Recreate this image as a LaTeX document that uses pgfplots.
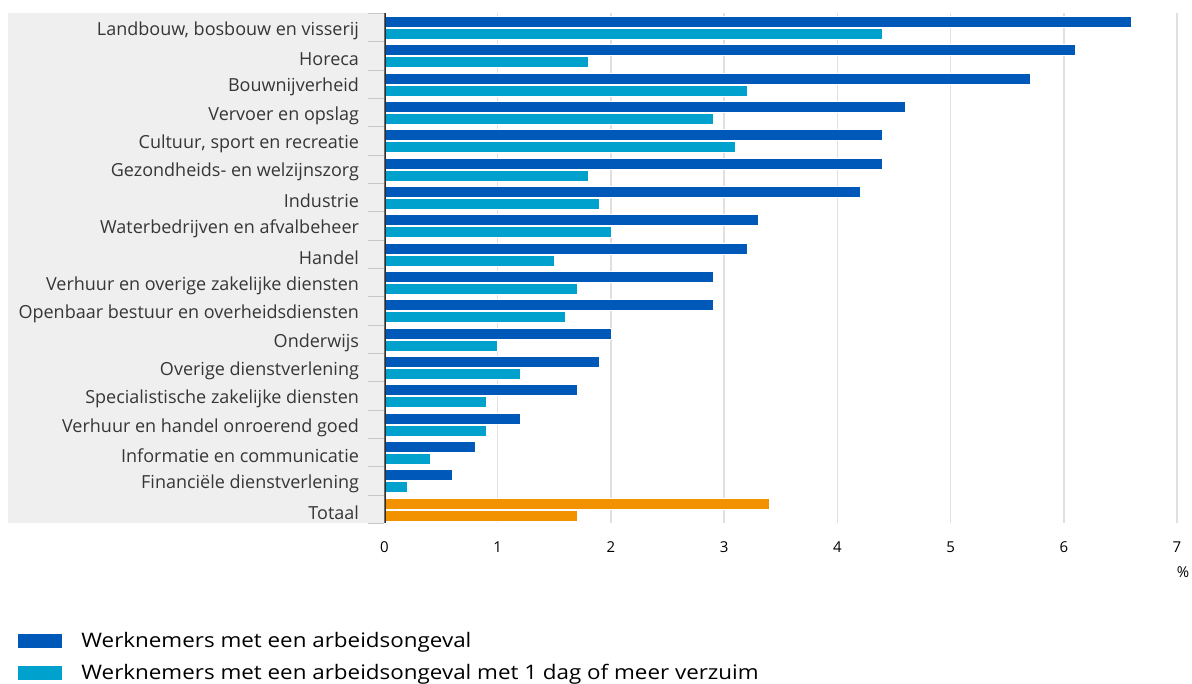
\documentclass[border=0pt]{standalone}
\usepackage{pgfplots}
\pgfplotsset{compat=1.18}
\usepackage{fontspec}
\setmainfont{Open Sans}
\newfontfamily\legfont[FakeStretch=1.12]{Open Sans}
\definecolor{dblue}{HTML}{0058B8}
\definecolor{lblue}{HTML}{00A1CD}
\definecolor{orng}{HTML}{F39200}
\definecolor{panel}{HTML}{EFEFEF}
\definecolor{lab}{HTML}{363636}
\definecolor{axl}{HTML}{2E2E2E}
\definecolor{gridc}{HTML}{E0E0E0}
\definecolor{tickc}{HTML}{C8C8C8}
\begin{document}
\begin{tikzpicture}
\useasboundingbox (0,0) rectangle (1192pt,684pt);
\fill[panel] (8pt,160.5pt) rectangle (384.5pt,670.5pt);
\begin{axis}[
  at={(384.5pt,160.5pt)}, anchor=south west,
  scale only axis, width=792.5pt, height=510pt,
  xmin=0, xmax=7, ymin=-0.5, ymax=17.5,
  xbar, bar width=11pt,
  axis line style={draw=none},
  xtick={0,...,7}, ytick={0,...,17},
  minor ytick={-0.5,0.5,...,17.5},
  ytick pos=left, xtick pos=bottom,
  major tick length=0pt, minor tick length=16pt, tick align=outside,
  minor tick style={tickc, line width=1.3pt},
  xmajorgrids, major grid style={gridc, line width=1.5pt},
  yticklabels={Totaal, Financiële dienstverlening, Informatie en communicatie, Verhuur en handel onroerend goed, Specialistische zakelijke diensten, Overige dienstverlening, Onderwijs, Openbaar bestuur en overheidsdiensten, Verhuur en overige zakelijke diensten, Handel, Waterbedrijven en afvalbeheer, Industrie, Gezondheids- en welzijnszorg, {Cultuur, sport en recreatie}, Vervoer en opslag, Bouwnijverheid, Horeca, {Landbouw, bosbouw en visserij}},
  yticklabel style={font=\fontsize{18}{20}\selectfont, text=lab, anchor=east, xshift=-22pt, yshift=-3pt},
  xticklabel style={font=\fontsize{15}{17}\selectfont, anchor=center, yshift=-24pt},
  /pgf/number format/assume math mode=true,
  legend image code/.code={\draw[#1, draw=none] (0pt,-7pt) rectangle (44pt,7pt); \path (61pt,0pt);},
  legend style={draw=none, fill=none, at={(axis description cs:-0.4625,-0.2618)}, anchor=west,
    font=\legfont\fontsize{20}{23}\selectfont, row sep=11pt, inner sep=0pt},
  legend cell align=left,
]
\addplot[xbar, bar shift=5.8pt, fill=dblue, draw=white, line width=0.5pt] coordinates {
(6.6,17) (6.1,16) (5.7,15) (4.6,14) (4.4,13) (4.4,12) (4.2,11) (3.3,10) (3.2,9)
(2.9,8) (2.9,7) (2.0,6) (1.9,5) (1.7,4) (1.2,3) (0.8,2) (0.6,1)};
\addplot[xbar, bar shift=-6.2pt, fill=lblue, draw=white, line width=0.5pt] coordinates {
(4.4,17) (1.8,16) (3.2,15) (2.9,14) (3.1,13) (1.8,12) (1.9,11) (2.0,10) (1.5,9)
(1.7,8) (1.6,7) (1.0,6) (1.2,5) (0.9,4) (0.9,3) (0.4,2) (0.2,1)};
\addplot[xbar, forget plot, bar shift=5.8pt, fill=orng, draw=white, line width=0.5pt] coordinates {(3.4,0)};
\addplot[xbar, forget plot, bar shift=-6.2pt, fill=orng, draw=white, line width=0.5pt] coordinates {(1.7,0)};
\legend{Werknemers met een arbeidsongeval, Werknemers met een arbeidsongeval met 1 dag of meer verzuim}
\draw[axl, line width=3pt] (axis cs:0,-0.5) -- (axis cs:0,17.5);
\end{axis}
\node[font=\fontsize{15}{17}\selectfont] at (1183pt,112pt) {\%};
\end{tikzpicture}
\end{document}
